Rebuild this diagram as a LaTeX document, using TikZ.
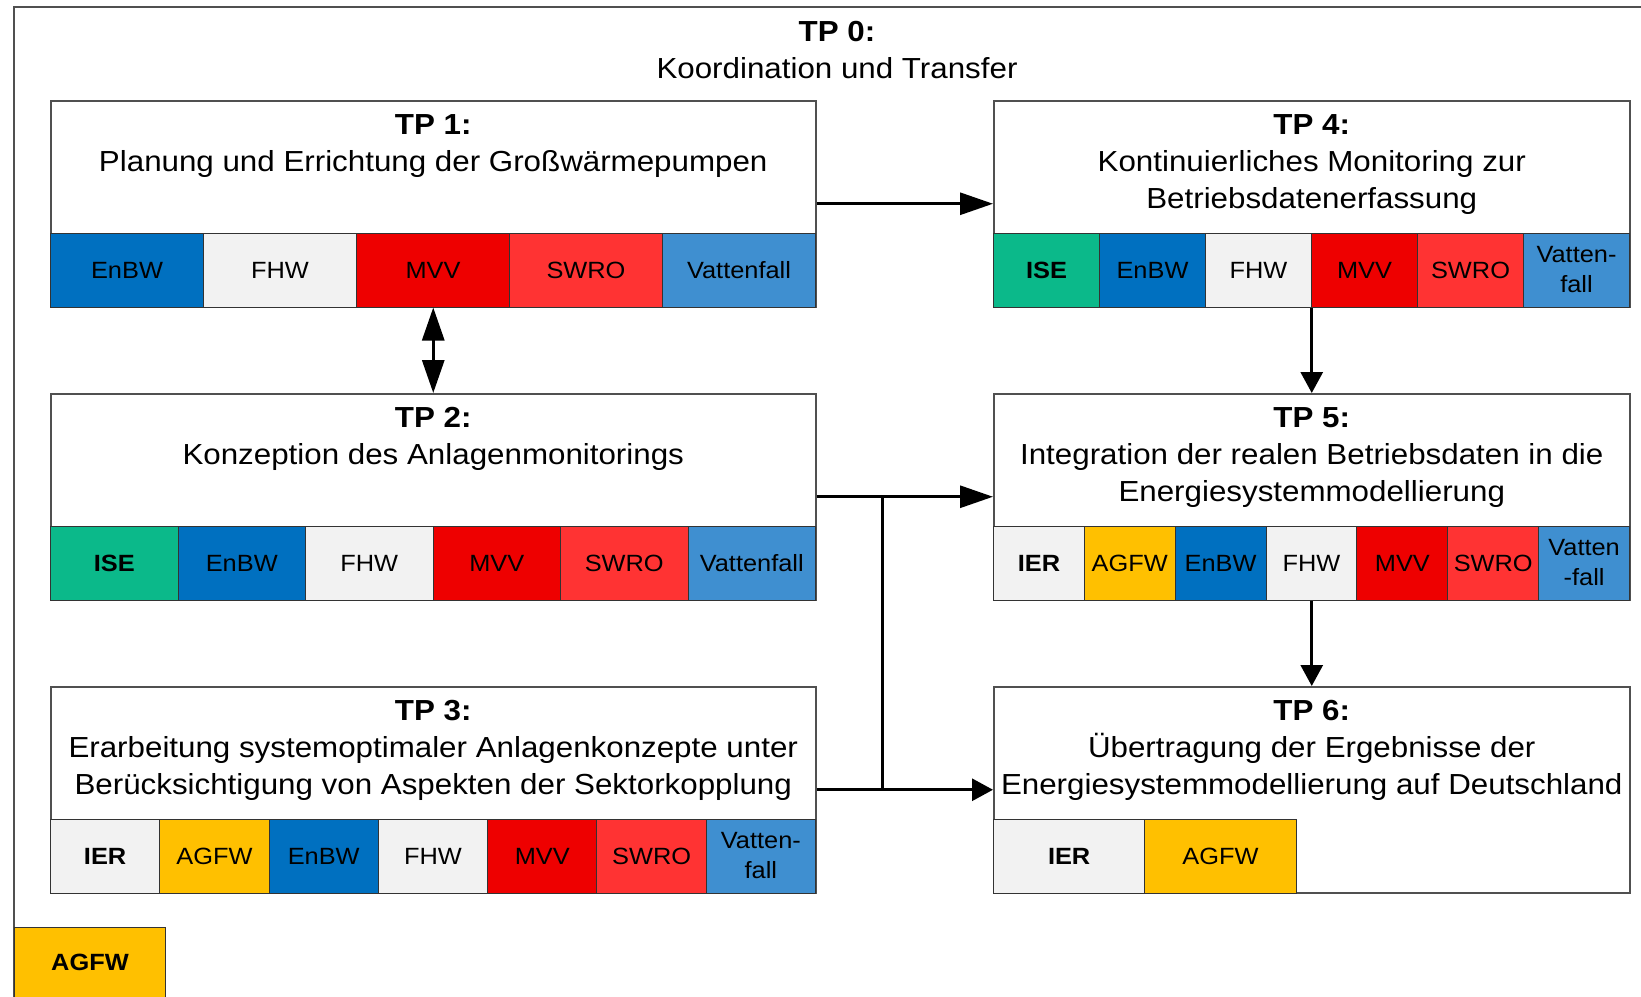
\documentclass[tikz,border=0pt]{standalone}
\usepackage{fontspec}
\setmainfont{Liberation Sans}[FakeStretch=1.08]
\usetikzlibrary{arrows.meta,calc,positioning}

\definecolor{enbw}{HTML}{0070C0}
\definecolor{fhw}{HTML}{F2F2F2}
\definecolor{mvv}{HTML}{EE0000}
\definecolor{swro}{HTML}{FF3333}
\definecolor{vf}{HTML}{3F8FD0}
\definecolor{ise}{HTML}{0BB98A}
\definecolor{agfw}{HTML}{FFC000}
\definecolor{rim}{HTML}{505050}

\tikzset{
  tpbox/.style={draw=rim, line width=1.5pt, fill=white, minimum height=206pt, inner sep=0pt, anchor=north west},
  tptitle/.style={align=center, inner sep=0pt, anchor=north, font=\fontsize{29}{37}\selectfont},
  cell/.style={draw=black!80, line width=1pt, minimum height=74pt, inner sep=0pt, anchor=south west, align=center, font=\fontsize{23.5}{30}\selectfont},
  flow/.style={line width=3pt, -{Triangle[length=33pt,width=22pt]}},
  flowshort/.style={line width=3pt, -{Triangle[length=21pt,width=22pt]}},
}

\begin{document}
\begin{tikzpicture}[x=1pt,y=-1pt]
            \useasboundingbox (0,0) rectangle (1641,996);
            \clip (0,0) rectangle (1641,996);
            % Outer frame
            \draw[rim, line width=1.5pt] (14,1100) -- (14,7) -- (1700,7);
            \node[tptitle] (tp0) at (837,21) {\textbf{TP 0:}\\Koordination und Transfer};
            % Work packages
            \node[tpbox, minimum width=765pt] (tp1) at (50,100) {};
            \node[tpbox, minimum width=765pt] (tp2) at (50,393) {};
            \node[tpbox, minimum width=765pt] (tp3) at (50,686) {};
            \node[tpbox, minimum width=636pt] (tp4) at (993,100) {};
            \node[tpbox, minimum width=636pt] (tp5) at (993,393) {};
            \node[tpbox, minimum width=636pt] (tp6) at (993,686) {};
            \node[tptitle] (tp1t) at ($(tp1.north)+(0,14)$) {\textbf{TP 1:}\\Planung und Errichtung der Großwärmepumpen};
            \node[tptitle] (tp2t) at ($(tp2.north)+(0,14)$) {\textbf{TP 2:}\\Konzeption des Anlagenmonitorings};
            \node[tptitle] (tp3t) at ($(tp3.north)+(0,14)$) {\textbf{TP 3:}\\Erarbeitung systemoptimaler Anlagenkonzepte unter\\Berücksichtigung von Aspekten der Sektorkopplung};
            \node[tptitle] (tp4t) at ($(tp4.north)+(0,14)$) {\textbf{TP 4:}\\Kontinuierliches Monitoring zur\\Betriebsdatenerfassung};
            \node[tptitle] (tp5t) at ($(tp5.north)+(0,14)$) {\textbf{TP 5:}\\Integration der realen Betriebsdaten in die\\Energiesystemmodellierung};
            \node[tptitle] (tp6t) at ($(tp6.north)+(0,14)$) {\textbf{TP 6:}\\Übertragung der Ergebnisse der\\Energiesystemmodellierung auf Deutschland};
            % Partners
            \foreach \i/\c/\t in {0/enbw/EnBW, 1/fhw/FHW, 2/mvv/MVV, 3/swro/SWRO, 4/vf/Vattenfall} {
                \node[cell, fill=\c, minimum width=153pt] (tp1c\i) at ($(tp1.south west)+(\i*153,0)$) {\t};
            }
            \foreach \i/\c/\t in {0/ise/{\textbf{ISE}}, 1/enbw/EnBW, 2/fhw/FHW, 3/mvv/MVV, 4/swro/SWRO, 5/vf/Vattenfall} {
                \node[cell, fill=\c, minimum width=127.5pt] (tp2c\i) at ($(tp2.south west)+(\i*127.5,0)$) {\t};
            }
            \foreach \i/\c/\t in {0/fhw/{\textbf{IER}}, 1/agfw/AGFW, 2/enbw/EnBW, 3/fhw/FHW, 4/mvv/MVV, 5/swro/SWRO, 6/vf/{Vatten-\\fall}} {
                \node[cell, fill=\c, minimum width=109.29pt] (tp3c\i) at ($(tp3.south west)+(\i*109.29,0)$) {\t};
            }
            \foreach \i/\c/\t in {0/ise/{\textbf{ISE}}, 1/enbw/EnBW, 2/fhw/FHW, 3/mvv/MVV, 4/swro/SWRO, 5/vf/{Vatten-\\fall}} {
                \node[cell, fill=\c, minimum width=106pt] (tp4c\i) at ($(tp4.south west)+(\i*106,0)$) {\t};
            }
            \foreach \i/\c/\t in {0/fhw/{\textbf{IER}}, 1/agfw/AGFW, 2/enbw/EnBW, 3/fhw/FHW, 4/mvv/MVV, 5/swro/SWRO, 6/vf/{Vatten\\-fall}} {
                \node[cell, fill=\c, minimum width=90.86pt] (tp5c\i) at ($(tp5.south west)+(\i*90.86,0)$) {\t};
            }
            \foreach \i/\c/\t in {0/fhw/{\textbf{IER}}, 1/agfw/AGFW} {
                \node[cell, fill=\c, minimum width=151.3pt] (tp6c\i) at ($(tp6.south west)+(\i*151.3,0)$) {\t};
            }
            \node[cell, fill=agfw, minimum width=151pt, minimum height=70pt, anchor=north west] (agfw) at (14,927) {\textbf{AGFW}};
            % Flows
            \coordinate (jn) at (882,0);
            \draw[flow] (tp1.east) -- (tp4.west);
            \draw[line width=3pt, {Triangle[length=33pt,width=22pt]}-{Triangle[length=33pt,width=22pt]}] (tp1.south) -- (tp2.north);
            \draw[flowshort] (tp4.south) -- (tp5.north);
            \draw[flowshort] (tp5.south) -- (tp6.north);
            \draw[flow] (tp2.east) -- (tp5.west);
            \draw[flowshort] (tp3.east) -- (tp6.west);
            \draw[line width=3pt] (tp2.east -| jn) -- (tp3.east -| jn);
        \end{tikzpicture}
\end{document}
